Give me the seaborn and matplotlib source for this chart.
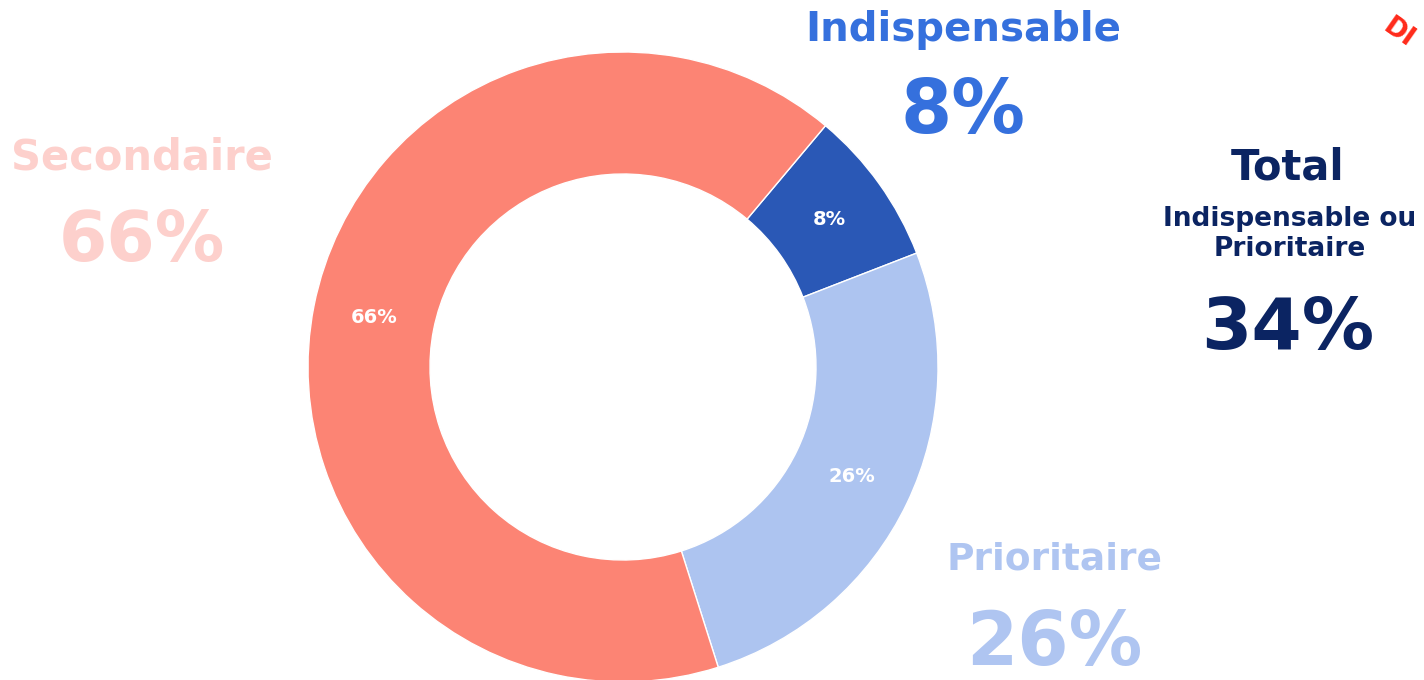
import matplotlib
matplotlib.use("Agg")
import matplotlib.pyplot as plt
import seaborn as sns

categories = ["Indispensable", "Prioritaire", "Secondaire"]
shares = [8, 26, 66]
slice_colors = ["#2A58B6", "#ADC4F0", "#FC8474"]
label_colors = ["#3570DD", "#AFC5F1", "#FDD0CC"]
total_label = "Total"
total_sub = "Indispensable ou\nPrioritaire"
total_value = shares[0] + shares[1]
navy = "#0B2462"


def donut():
    sns.set_theme(style="white")
    plt.rcParams['font.family'] = ['DejaVu Sans']

    fig = plt.figure(figsize=(14.24, 6.8), dpi=100)
    ax = fig.add_axes([0, 0, 1, 1])

    ax.pie(
        shares, colors=slice_colors, startangle=50, counterclock=False,
        center=(623, 313), radius=315, autopct="%d%%", pctdistance=0.806,
        wedgeprops=dict(width=122, edgecolor="white", linewidth=1),
        textprops=dict(color="white", fontsize=14, fontweight="bold"),
        frame=True)
    ax.set_xlim(0, 1424)
    ax.set_ylim(0, 680)
    ax.set_aspect("equal", adjustable="box")
    ax.axis("off")

    # big side labels
    spots = {"Indispensable": (963, 650, 568, 29, 53),
             "Prioritaire": (1054, 120, 36, 27, 53),
             "Secondaire": (142, 522, 438, 30, 50)}
    for cat, share, col in zip(categories, shares, label_colors):
        x, y_name, y_val, fs_name, fs_val = spots[cat]
        ax.text(x, y_name, cat, color=col, fontsize=fs_name, fontweight="bold",
                ha="center", va="center")
        ax.text(x, y_val, f"{share}%", color=col, fontsize=fs_val, fontweight="bold",
                ha="center", va="center")

    ax.text(1288, 513, total_label, color=navy, fontsize=30, fontweight="bold",
            ha="center", va="center")
    ax.text(1290, 446, total_sub, color=navy, fontsize=19, fontweight="bold",
            ha="center", va="center", linespacing=1.2)
    ax.text(1288, 351, f"{total_value}%", color=navy, fontsize=52, fontweight="bold",
            ha="center", va="center")

    ax.text(1386, 656, "DI", color="#FF2A1A", fontsize=19, fontweight="bold",
            rotation=-35, ha="left", va="center", rotation_mode="anchor")

    fig.savefig("out.png", dpi=100)


def main():
    donut()


if __name__ == '__main__':
    main()
